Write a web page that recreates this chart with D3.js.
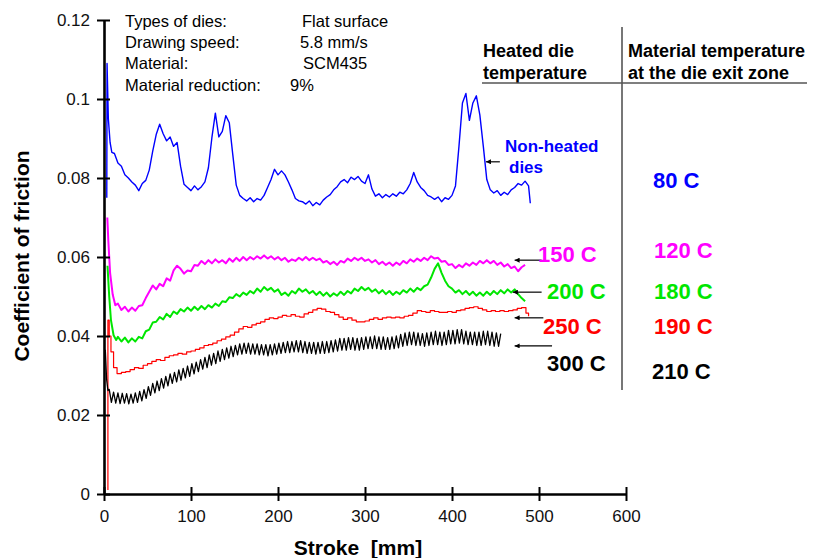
<!DOCTYPE html>
<html>
<head>
<meta charset="utf-8">
<script src="https://cdn.jsdelivr.net/npm/d3@7"></script>
<style>
  body { margin: 0; background: #fff; }
  svg { display: block; font-family: "Liberation Sans", Arial, sans-serif; }
</style>
</head>
<body>
<svg id="chart" width="813" height="558"></svg>
<script>
const width = 813;
const height = 558;

// axis ticks
const strokeTicks = [0, 100, 200, 300, 400, 500, 600];
const cofTicks = [0, 0.02, 0.04, 0.06, 0.08, 0.1, 0.12];

// test conditions (top left)
const condLabels = ["Types of dies:", "Drawing speed:", "Material:", "Material reduction:"];
const condValues = ["Flat surface", "5.8 mm/s", "SCM435", "9%"];

// Non-heated dies (blue): start spike, then a 4 mm grid from 12 to 488 mm
const nonHeatedStart = [[3.2, 0.075], [3.5, 0.109], [5, 0.095], [7, 0.089], [9, 0.0865]];
const nonHeatedCof = [
  0.0862,0.0838,0.0830,0.0808,0.0800,0.0790,0.0782,0.0768,0.0786,0.0794,
  0.0820,0.0868,0.0910,0.0936,0.0912,0.0894,0.0904,0.0880,0.0890,0.0830,
  0.0784,0.0776,0.0768,0.0780,0.0770,0.0778,0.0790,0.0826,0.0902,0.0964,
  0.0904,0.0918,0.0958,0.0940,0.0860,0.0782,0.0756,0.0748,0.0742,0.0750,
  0.0740,0.0748,0.0744,0.0756,0.0776,0.0796,0.0822,0.0808,0.0818,0.0808,
  0.0790,0.0770,0.0748,0.0742,0.0740,0.0734,0.0742,0.0730,0.0738,0.0732,
  0.0744,0.0752,0.0758,0.0770,0.0778,0.0790,0.0796,0.0788,0.0802,0.0796,
  0.0804,0.0792,0.0786,0.0808,0.0772,0.0754,0.0760,0.0750,0.0758,0.0752,
  0.0760,0.0754,0.0764,0.0760,0.0770,0.0786,0.0814,0.0790,0.0776,0.0768,
  0.0756,0.0752,0.0746,0.0752,0.0740,0.0750,0.0746,0.0756,0.0780,0.0880,
  0.0990,0.1014,0.0946,0.0990,0.1008,0.0960,0.0880,0.0796,0.0770,0.0762,
  0.0768,0.0756,0.0764,0.0758,0.0770,0.0776,0.0786,0.0782,0.0792,0.0780
];
const nonHeatedEnd = [[490, 0.0736]];

// 150 C die (magenta): 4 mm grid from 16 to 484 mm
const die150Start = [[3.8, 0.070], [5, 0.064], [7, 0.056], [10, 0.0505], [13, 0.0478]];
const die150Cof = [
  0.0482,0.0466,0.0474,0.0462,0.0472,0.0464,0.0476,0.0478,0.0496,0.0512,
  0.0528,0.0518,0.0532,0.0526,0.0546,0.0540,0.0566,0.0578,0.0570,0.0558,
  0.0566,0.0564,0.0580,0.0578,0.0590,0.0582,0.0592,0.0584,0.0594,0.0586,
  0.0592,0.0584,0.0596,0.0588,0.0598,0.0590,0.0600,0.0592,0.0600,0.0594,
  0.0602,0.0596,0.0604,0.0596,0.0602,0.0594,0.0600,0.0592,0.0598,0.0588,
  0.0594,0.0590,0.0598,0.0592,0.0600,0.0592,0.0598,0.0592,0.0596,0.0586,
  0.0590,0.0582,0.0588,0.0580,0.0590,0.0586,0.0596,0.0590,0.0598,0.0592,
  0.0598,0.0590,0.0594,0.0586,0.0592,0.0582,0.0588,0.0580,0.0586,0.0578,
  0.0586,0.0580,0.0590,0.0584,0.0594,0.0588,0.0596,0.0590,0.0598,0.0592,
  0.0602,0.0596,0.0598,0.0588,0.0590,0.0580,0.0582,0.0572,0.0580,0.0574,
  0.0584,0.0578,0.0586,0.0580,0.0590,0.0584,0.0592,0.0584,0.0590,0.0580,
  0.0586,0.0576,0.0582,0.0572,0.0576,0.0564,0.0574,0.0580
];

// 200 C die (green): 4 mm grid from 16 to 484 mm
const die200Start = [[4, 0.0578], [6, 0.050], [8, 0.044], [11, 0.0402], [14, 0.0390]];
const die200Cof = [
  0.0398,0.0386,0.0396,0.0384,0.0394,0.0386,0.0398,0.0394,0.0412,0.0416,
  0.0434,0.0436,0.0448,0.0442,0.0456,0.0448,0.0462,0.0456,0.0468,0.0462,
  0.0472,0.0464,0.0474,0.0466,0.0476,0.0468,0.0478,0.0472,0.0482,0.0476,
  0.0488,0.0486,0.0498,0.0496,0.0506,0.0500,0.0510,0.0504,0.0514,0.0508,
  0.0520,0.0512,0.0524,0.0516,0.0522,0.0512,0.0518,0.0504,0.0510,0.0502,
  0.0514,0.0508,0.0520,0.0512,0.0518,0.0508,0.0514,0.0504,0.0512,0.0502,
  0.0510,0.0500,0.0508,0.0502,0.0512,0.0504,0.0514,0.0508,0.0520,0.0514,
  0.0524,0.0516,0.0522,0.0512,0.0518,0.0508,0.0516,0.0506,0.0514,0.0504,
  0.0512,0.0506,0.0516,0.0510,0.0520,0.0512,0.0522,0.0516,0.0526,0.0530,
  0.0548,0.0570,0.0584,0.0560,0.0540,0.0526,0.0520,0.0510,0.0516,0.0506,
  0.0514,0.0504,0.0512,0.0502,0.0510,0.0502,0.0512,0.0504,0.0514,0.0506,
  0.0516,0.0508,0.0518,0.0510,0.0518,0.0506,0.0496,0.0488
];

// 250 C die (red): 5 mm grid from 15 to 485 mm
const die250Start = [[4.5, 0.001], [4.5, 0.044], [6, 0.040], [8, 0.036], [11, 0.032]];
const die250Cof = [
  0.0305,0.0308,0.0310,0.0315,0.0320,0.0318,0.0326,0.0330,0.0336,0.0340,
  0.0338,0.0346,0.0350,0.0352,0.0356,0.0354,0.0360,0.0362,0.0366,0.0370,
  0.0376,0.0378,0.0382,0.0388,0.0392,0.0398,0.0402,0.0410,0.0418,0.0424,
  0.0422,0.0428,0.0432,0.0436,0.0442,0.0446,0.0444,0.0448,0.0452,0.0450,
  0.0454,0.0450,0.0448,0.0456,0.0460,0.0466,0.0470,0.0468,0.0462,0.0460,
  0.0454,0.0448,0.0442,0.0446,0.0440,0.0436,0.0436,0.0438,0.0442,0.0446,
  0.0442,0.0446,0.0448,0.0446,0.0448,0.0446,0.0450,0.0452,0.0458,0.0464,
  0.0462,0.0460,0.0464,0.0462,0.0460,0.0460,0.0462,0.0460,0.0464,0.0466,
  0.0470,0.0472,0.0474,0.0470,0.0466,0.0462,0.0464,0.0462,0.0464,0.0462,
  0.0464,0.0466,0.0470,0.0472,0.0458
];
const die250End = [[488, 0.0450]];

// 300 C die (black): 2.5 mm grid from 6 to 456 mm
const die300Start = [[1.5, 0.0365], [3, 0.029], [4.5, 0.0262]];
const die300Cof = [
  0.0265,0.0232,0.0258,0.0230,0.0256,0.0229,0.0255,0.0230,0.0254,0.0228,
  0.0253,0.0230,0.0256,0.0232,0.0260,0.0236,0.0264,0.0242,0.0272,0.0250,
  0.0280,0.0256,0.0286,0.0262,0.0292,0.0268,0.0298,0.0274,0.0304,0.0280,
  0.0308,0.0284,0.0314,0.0288,0.0318,0.0294,0.0324,0.0298,0.0330,0.0304,
  0.0334,0.0310,0.0340,0.0316,0.0346,0.0320,0.0352,0.0326,0.0356,0.0330,
  0.0362,0.0336,0.0366,0.0340,0.0370,0.0344,0.0374,0.0348,0.0376,0.0352,
  0.0380,0.0354,0.0382,0.0356,0.0382,0.0354,0.0380,0.0354,0.0380,0.0352,
  0.0378,0.0352,0.0378,0.0350,0.0378,0.0352,0.0380,0.0354,0.0382,0.0356,
  0.0384,0.0358,0.0386,0.0358,0.0386,0.0360,0.0388,0.0360,0.0388,0.0358,
  0.0386,0.0356,0.0384,0.0356,0.0384,0.0354,0.0384,0.0356,0.0386,0.0356,
  0.0386,0.0358,0.0388,0.0360,0.0390,0.0362,0.0394,0.0364,0.0394,0.0364,
  0.0396,0.0366,0.0396,0.0364,0.0394,0.0364,0.0396,0.0366,0.0398,0.0368,
  0.0398,0.0368,0.0400,0.0368,0.0398,0.0366,0.0398,0.0366,0.0396,0.0366,
  0.0398,0.0368,0.0400,0.0370,0.0404,0.0374,0.0408,0.0376,0.0410,0.0378,
  0.0410,0.0376,0.0408,0.0376,0.0406,0.0374,0.0408,0.0376,0.0410,0.0378,
  0.0412,0.0378,0.0410,0.0376,0.0410,0.0378,0.0414,0.0380,0.0414,0.0380,
  0.0416,0.0382,0.0416,0.0380,0.0412,0.0378,0.0410,0.0378,0.0410,0.0376,
  0.0410,0.0376,0.0412,0.0378,0.0412,0.0376,0.0410,0.0374,0.0408,0.0374,
  0.0406
];

// heated die temperature / material temperature at the die exit
const dieTemps = ["150 C", "200 C", "250 C", "300 C"];
const exitTemps = ["80 C", "120 C", "180 C", "190 C", "210 C"];
// arrows: [from stroke, to stroke, coefficient]
const arrows = [[439, 455, 0.0841], [472, 503, 0.0592], [470, 503, 0.0511], [472, 505, 0.0446], [472, 515, 0.0375]];

const colors = { blue: "#0000ff", magenta: "#ff00ff", green: "#00e600", red: "#ff0000", black: "#000000" };

// build the series from start spike + grid values
function onGrid(start, step, values) {
  return values.map((v, i) => [start + i * step, v]);
}
const series = [
  { color: colors.blue, width: 1.4, curve: d3.curveLinear,
    data: nonHeatedStart.concat(onGrid(12, 4, nonHeatedCof), nonHeatedEnd) },
  { color: colors.magenta, width: 2.0, curve: d3.curveLinear,
    data: die150Start.concat(onGrid(16, 4, die150Cof)) },
  { color: colors.green, width: 2.0, curve: d3.curveLinear,
    data: die200Start.concat(onGrid(16, 4, die200Cof)) },
  { color: colors.red, width: 1.2, curve: d3.curveStepAfter,
    data: die250Start.concat(onGrid(15, 5, die250Cof), die250End) },
  { color: colors.black, width: 1.3, curve: d3.curveLinear,
    data: die300Start.concat(onGrid(6, 2.5, die300Cof)) }
];

const svg = d3.select("#chart");
svg.append("rect").attr("width", width).attr("height", height).attr("fill", "#fff");

const x = d3.scaleLinear().domain([0, 600]).range([104, 626]);
const y = d3.scaleLinear().domain([0, 0.12]).range([494, 20]);

// curves
const line = d3.line().x(d => x(d[0])).y(d => y(d[1]));
svg.append("g")
  .selectAll("path")
  .data(series)
  .join("path")
  .attr("fill", "none")
  .attr("stroke", d => d.color)
  .attr("stroke-width", d => d.width)
  .attr("stroke-linejoin", "round")
  .attr("d", d => line.curve(d.curve)(d.data));

// axes
const fmt = d => d === 0 ? "0" : d3.format(".2~f")(d);
svg.append("g")
  .attr("transform", `translate(${x(0)},0)`)
  .call(d3.axisLeft(y).tickValues(cofTicks).tickFormat(fmt).tickSizeInner(7).tickSizeOuter(0).tickPadding(7))
  .call(g => {
    g.attr("font-family", null).attr("font-size", 17);
    g.select(".domain").attr("stroke-width", 2.6);
    g.selectAll(".tick line").attr("x1", 6).attr("stroke-width", 2);
    g.selectAll(".tick text").attr("fill", "#111");
  });

svg.append("g")
  .attr("transform", `translate(0,${y(0)})`)
  .call(d3.axisBottom(x).tickValues(strokeTicks).tickSizeInner(7).tickSizeOuter(0).tickPadding(9))
  .call(g => {
    g.attr("font-family", null).attr("font-size", 17);
    g.select(".domain").attr("stroke-width", 2.6);
    g.selectAll(".tick line").attr("y1", -7).attr("stroke-width", 2);
    g.selectAll(".tick text").attr("fill", "#111");
  });

// axis titles
svg.append("text")
  .attr("transform", "translate(29,256) rotate(-90)")
  .attr("text-anchor", "middle")
  .attr("font-size", 21)
  .attr("font-weight", "bold")
  .text("Coefficient of friction");

svg.append("text")
  .attr("x", 358).attr("y", 555)
  .attr("text-anchor", "middle")
  .attr("font-size", 21)
  .attr("font-weight", "bold")
  .style("white-space", "pre")
  .text("Stroke  [mm]");

// conditions block
const condY = [27, 48, 69, 91];
const condValueX = [302, 300, 303, 290];
svg.append("g").selectAll("text").data(condLabels).join("text")
  .attr("x", 125).attr("y", (d, i) => condY[i])
  .attr("font-size", 16.5).text(d => d);
svg.append("g").selectAll("text").data(condValues).join("text")
  .attr("x", (d, i) => condValueX[i]).attr("y", (d, i) => condY[i])
  .attr("font-size", 16.5).text(d => d);

// table header and rules
const header = svg.append("g").attr("font-size", 18).attr("font-weight", "bold");
header.append("text").attr("x", 483).attr("y", 57).text("Heated die");
header.append("text").attr("x", 483).attr("y", 79).text("temperature");
header.append("text").attr("x", 628).attr("y", 57).text("Material temperature");
header.append("text").attr("x", 628).attr("y", 79).text("at the die exit zone");
svg.append("line").attr("x1", 622).attr("x2", 622).attr("y1", 27).attr("y2", 390)
  .attr("stroke", "#555").attr("stroke-width", 1.6);
svg.append("line").attr("x1", 482).attr("x2", 807).attr("y1", 83).attr("y2", 83)
  .attr("stroke", "#555").attr("stroke-width", 1.6);

// arrows
svg.append("defs").append("marker")
  .attr("id", "arr")
  .attr("viewBox", "0 0 10 10")
  .attr("refX", 10).attr("refY", 5)
  .attr("markerUnits", "userSpaceOnUse")
  .attr("markerWidth", 6).attr("markerHeight", 5)
  .attr("orient", "auto-start-reverse")
  .append("path").attr("d", "M0,0L10,5L0,10z").attr("fill", "#000");
svg.append("g").selectAll("line").data(arrows).join("line")
  .attr("x1", d => x(d[0])).attr("x2", d => x(d[1]))
  .attr("y1", d => y(d[2])).attr("y2", d => y(d[2]))
  .attr("stroke", "#000").attr("stroke-width", 1.2)
  .attr("marker-start", "url(#arr)");

// labels
svg.append("text").attr("x", 505).attr("y", 152)
  .attr("font-size", 17).attr("font-weight", "bold").attr("fill", colors.blue).text("Non-heated");
svg.append("text").attr("x", 509).attr("y", 173)
  .attr("font-size", 17).attr("font-weight", "bold").attr("fill", colors.blue).text("dies");

const dieLabelX = [538, 547, 543, 547];
const dieLabelY = [262, 299, 334, 371];
const dieColors = [colors.magenta, colors.green, colors.red, colors.black];
svg.append("g").selectAll("text").data(dieTemps).join("text")
  .attr("x", (d, i) => dieLabelX[i]).attr("y", (d, i) => dieLabelY[i])
  .attr("font-size", 22).attr("font-weight", "bold")
  .attr("fill", (d, i) => dieColors[i]).text(d => d);

const exitLabelX = [653, 654, 654, 654, 652];
const exitLabelY = [188, 258, 299, 334, 379];
const exitColors = [colors.blue, colors.magenta, colors.green, colors.red, colors.black];
svg.append("g").selectAll("text").data(exitTemps).join("text")
  .attr("x", (d, i) => exitLabelX[i]).attr("y", (d, i) => exitLabelY[i])
  .attr("font-size", 22).attr("font-weight", "bold")
  .attr("fill", (d, i) => exitColors[i]).text(d => d);
</script>
</body>
</html>
